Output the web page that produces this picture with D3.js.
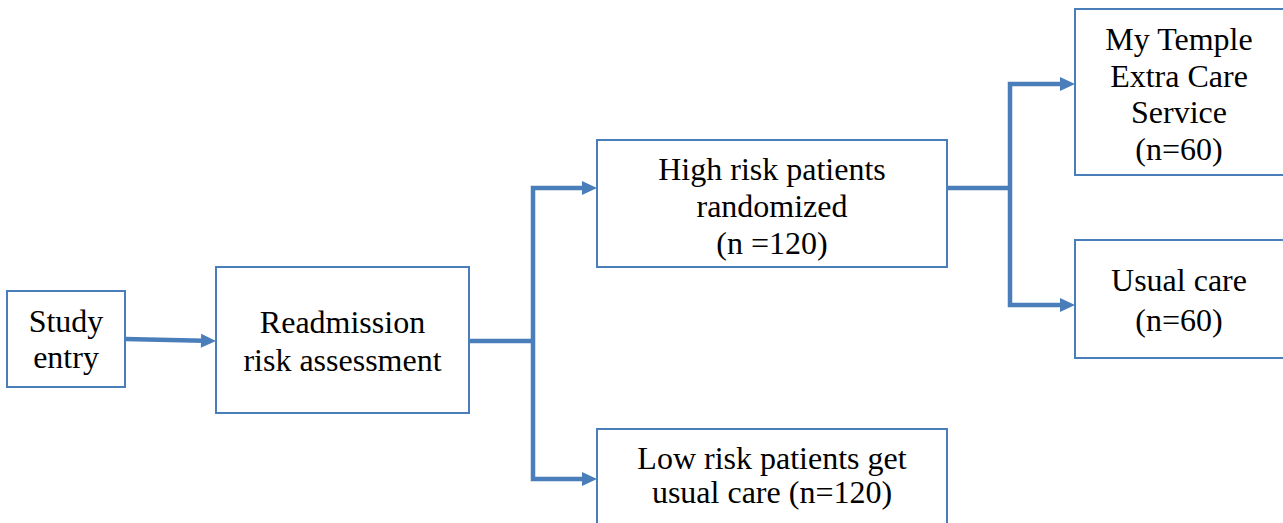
<!DOCTYPE html>
<html>
<head>
<meta charset="utf-8">
<script src="https://cdn.jsdelivr.net/npm/d3@7"></script>
<style>
    html, body { margin: 0; padding: 0; background: #fff; overflow: hidden; }
    svg { display: block; }
    text { font-family: 'Liberation Serif', 'Times New Roman', 'DejaVu Serif', serif; }
</style>
</head>
<body>
<div id="chart"></div>
<script>
// node labels (one entry per line)
const nodeIds = ['entry', 'assess', 'high', 'low', 'extra', 'usual'];
const nodeLabels = [
    ['Study', 'entry'],
    ['Readmission', 'risk assessment'],
    ['High risk patients', 'randomized', '(n =120)'],
    ['Low risk patients get', 'usual care (n=120)'],
    ['My Temple', 'Extra Care', 'Service', '(n=60)'],
    ['Usual care', '(n=60)']
];
// flow links: from -> [targets]
const links = [
    ['entry', ['assess']],
    ['assess', ['high', 'low']],
    ['high', ['extra', 'usual']]
];

// layout (pixel boxes) kept separately from the data
const layout = {
    entry:  {x0: 7,    x1: 125,  y0: 291, y1: 387, ty: 340, lh: 36},
    assess: {x0: 216,  x1: 469,  y0: 267, y1: 413, ty: 342, lh: 38},
    high:   {x0: 597,  x1: 947,  y0: 140, y1: 267, ty: 207, lh: 37},
    low:    {x0: 597,  x1: 947,  y0: 429, y1: 540, ty: 476, lh: 34},
    extra:  {x0: 1075, x1: 1290, y0: 9,   y1: 175, ty: 95,  lh: 36.5},
    usual:  {x0: 1075, x1: 1290, y0: 240, y1: 358, ty: 301, lh: 40}
};
const arrowY = {assess: 341, high: 188, low: 479, extra: 84, usual: 305};
const branchX = {assess: 533, high: 1010};

const W = 1283, H = 523;
const blue = '#4a7ebb';
const fontSize = 32;
const lineW = 4.5;

const svg = d3.select('#chart').append('svg')
    .attr('width', W)
    .attr('height', H);

const nodes = nodeIds.map((id, i) => Object.assign({id: id, lines: nodeLabels[i]}, layout[id]));

const line = d3.line();

function arrowHead(tip, from) {
    // triangle pointing from "from" to "tip"
    const ang = Math.atan2(tip[1] - from[1], tip[0] - from[0]);
    const len = 15, half = 7;
    const bx = tip[0] - len * Math.cos(ang), by = tip[1] - len * Math.sin(ang);
    const px = -Math.sin(ang) * half, py = Math.cos(ang) * half;
    svg.append('path')
        .attr('d', `M${tip[0]},${tip[1]}L${bx + px},${by + py}L${bx - px},${by - py}Z`)
        .attr('fill', blue);
}

function shaft(pts) {
    svg.append('path')
        .attr('d', line(pts))
        .attr('fill', 'none')
        .attr('stroke', blue)
        .attr('stroke-width', lineW)
        .attr('stroke-linejoin', 'miter');
}

// connectors
links.forEach(([from, targets]) => {
    const s = layout[from];
    if (targets.length === 1) {
        const t = layout[targets[0]];
        const a = [s.x1, s.ty - 1], b = [t.x0, arrowY[targets[0]]];
        const ang = Math.atan2(b[1] - a[1], b[0] - a[0]);
        shaft([a, [b[0] - 12 * Math.cos(ang), b[1] - 12 * Math.sin(ang)]]);
        arrowHead(b, a);
        return;
    }
    const bx = branchX[from];
    const sy = arrowY[from];
    shaft([[s.x1, sy], [bx, sy]]);
    targets.forEach(tid => {
        const t = layout[tid];
        const ty = arrowY[tid];
        shaft([[bx, sy], [bx, ty], [t.x0 - 12, ty]]);
        arrowHead([t.x0, ty], [bx, ty]);
    });
});

// boxes
const g = svg.selectAll('g.node')
    .data(nodes)
    .enter()
    .append('g')
    .attr('class', 'node');

g.append('rect')
    .attr('x', d => d.x0)
    .attr('y', d => d.y0)
    .attr('width', d => d.x1 - d.x0)
    .attr('height', d => d.y1 - d.y0)
    .attr('fill', 'none')
    .attr('stroke', blue)
    .attr('stroke-width', 2);

g.each(function(d) {
    const n = d.lines.length;
    const cx = (d.x0 + Math.min(d.x1, 1283)) / 2;
    d3.select(this).selectAll('text')
        .data(d.lines)
        .enter()
        .append('text')
        .attr('x', d.id === 'extra' || d.id === 'usual' ? 1179 : cx)
        .attr('y', (t, i) => d.ty + (i - (n - 1) / 2) * d.lh + fontSize * 0.32)
        .attr('text-anchor', 'middle')
        .attr('font-size', fontSize)
        .attr('fill', '#000')
        .text(t => t);
});
</script>
</body>
</html>
